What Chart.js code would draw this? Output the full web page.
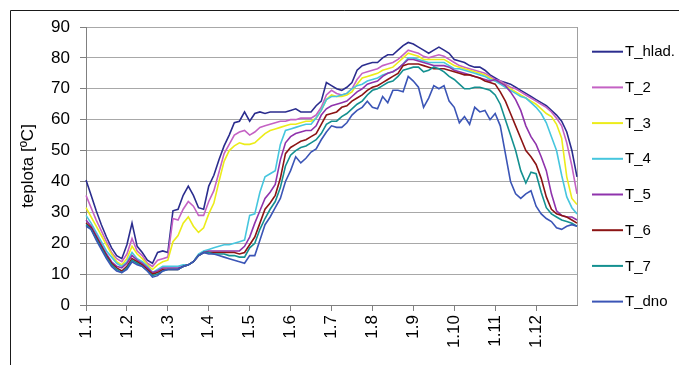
<!DOCTYPE html>
<html>
<head>
<meta charset="utf-8">
<script src="https://cdn.jsdelivr.net/npm/chart.js@4/dist/chart.umd.min.js"></script>
<style>
  html, body { margin: 0; padding: 0; background: #ffffff; }
  #wrap { width: 679px; height: 365px; }
</style>
</head>
<body>
<div id="wrap"><canvas id="c" width="679" height="365"></canvas></div>
<script>
// Month tick labels along the time axis (first day of each month)
const monthLabels = ['1.1', '1.2', '1.3', '1.4', '1.5', '1.6', '1.7', '1.8', '1.9', '1.10', '1.11', '1.12'];
const samplesPerMonth = 8;
const sampleCount = 97;

// Series names
const seriesNames = ['T_hlad.', 'T_2', 'T_3', 'T_4', 'T_5', 'T_6', 'T_7', 'T_dno'];
const seriesColors = ['#2B2D8E', '#C462C4', '#ECEC1A', '#46C6DE', '#8F33AC', '#8C1414', '#149090', '#3B55B6'];

// Temperatures [°C]
const T_hlad = [40.5,35.5,30.5,26,22,18.5,16,15,19.5,26.5,19,17,14.5,13.5,17,17.5,17,30.5,31,35.5,38.5,35.5,31.5,31,38.5,42,47,51.5,55,59,59.5,62.5,59.5,62,62.5,62,62.5,62.5,62.5,62.5,63,63.5,62.5,62.5,62.5,64.5,66,72,71,70,69.5,70.5,72,76,77.5,78,78.5,78.5,80,81,81,82.5,84,85,84.5,83.5,82.5,81.5,82.5,83.5,82.5,81.5,79.5,79,78.5,77.5,77,77,76,74.5,73.5,72.5,72,71.5,70.5,69.5,68.5,67.5,66.5,65.5,64.5,63,61.5,59.5,56,50,41.5];
const T_2 = [35.5,31.5,27.5,24,20.5,17,15,14,16.5,21.5,17.5,16,13.5,12.5,14.5,15,15.5,28,27.5,31,33.5,32,29,29,33.5,37,43,49,52,55,56,56.5,55,56,57.5,58,58.5,59,59.5,59.5,60,60,60.5,60.5,60.5,61.5,64,68,69.5,68.5,68,68.5,70,73,75,75.5,76,76.5,77.5,78,78.5,79.5,81,82.5,82,81.5,80.5,80,80.5,81,80.5,79.5,78.5,77.5,77,76.5,76,75.5,75,74,73,72.5,71.5,70.5,70,69,68,67,66,65,64,62.5,60.5,58,52.5,45,36];
const T_3 = [31.5,28.5,25.5,22.5,19.5,16.5,14,13,15,19,16.5,15,13,11.5,13,14,14.5,20.5,22.5,26.5,28.5,25.5,23.5,25,29.5,33,40,46.5,50,51.5,52.5,52,52,52.5,54,55.5,56.5,57,57.5,58,58.5,58.5,59,59.5,59.5,60.5,63,66.5,68,67.5,67.5,68,69,71.5,73.5,74,74.5,75,76,76.5,77,78.5,80,81.5,81,80.5,79.5,79.5,79.5,79.5,79.5,78.5,77.5,77,76.5,76,75.5,75,74.5,73.5,72.5,72,71,70,69,68,67,66,65,63.5,62,61,58.5,54,41.5,34.5,32.5];
const T_4 = [29,26.5,23.5,20.5,17.5,15.5,13.5,12.5,14,17,15,14,12.5,10.5,11.5,12.5,12.5,12.5,12.5,13,13,14,16.5,17.5,18,18.5,19,19.5,19.5,20,20.5,21,29,29.5,36.5,41.5,42.5,43.5,52,56.5,57,57.5,58,58.5,58.5,60.5,63,66.5,67.5,67.5,68,68.5,70,71,71.5,72.5,73,73.5,74.5,75,75.5,76.5,78,80,80,79.5,79,78.5,78.5,78.5,78.5,77.5,76.5,76.5,76,75.5,75,74.5,74,73,72.5,71.5,70.5,69.5,68.5,67.5,67,65.5,64,62,59,54.5,50,42,35,31.5,29.5];
const T_5 = [27.5,25.5,22.5,19.5,16.5,14,12.5,12,13.5,16,14.5,13.5,12,10.5,11,12,12,12,12,12.5,13,14,16,17,17.5,17.5,17.5,17.5,17.5,17.5,17.5,19,22,26.5,30.5,34.5,36.5,39,47,52.5,54.5,55.5,56,56.5,56.5,58,61.5,63.5,64.5,65,65.5,66,67.5,69,70,71.5,72,72.5,74,75,75.5,76.5,78,79.5,79.5,79,78.5,78,77.5,77.5,77.5,77,76,75.5,75,74.5,74,73.5,73,72.5,73,72,71,69,66.5,63,58,54.5,52,48,43.5,36,30.5,29,28.5,28.5,27.5];
const T_6 = [26.5,25,22,19,16,13.5,12,11,12.5,15,14,13,11.5,10,10.5,11.5,11.5,11.5,11.5,12.5,13,14,16,17,17,17,17,17,17,17,16.5,17,19.5,22,26.5,31,33,35.5,41,49,51,52,53,53.5,54.5,55.5,58.5,61.5,62,62.5,64,64.5,66,67,68,69.5,70.5,71,72,73,74,75,77.5,78,78,78,77.5,77,76.5,76.5,76.5,76,75.5,75,74.5,74.5,74,73.5,72.5,72,71.5,69,66,62,58,54,50,48,45.5,41,35,31,29.5,29,28.5,27.5,26.5];
const T_7 = [26,24.5,21.5,18.5,15.5,13,11.5,10.5,12,14.5,13.5,12.5,11,9.5,10,11,11.5,11.5,11.5,12.5,13,14,16,17,17,16.5,16.5,16.5,16,16,15.5,15.5,18.5,20,24.5,28,31,33.5,38,45,48.5,50,51,51.5,52.5,53.5,55.5,58.5,59.5,59.5,61,62,63.5,65,66,68,69.5,70,71,72,72.5,74,76,76.5,77,77,75.5,76,77,76.5,75.5,74,73,71.5,70,70,70.5,70.5,70,69.5,68,65,60,55,50,43.5,39.5,43,42.5,36.5,31.5,29.5,28.5,27.5,27,26.5,25.5];
const T_dno = [25.5,24.5,21,18,15,12.5,11,10.5,11.5,14,13,12.5,11,9,9.5,11,11.5,11.5,11.5,12.5,13,14,16,17,16.5,16.5,16,15.5,15,14.5,14,13.5,16,16,21,26,28.5,31.5,34.5,40,43.5,48,46,47.5,49.5,50.5,53.5,56,58,57.5,57.5,59,61.5,63,64,66,64,63.5,67.5,65.5,69.5,69.5,69,74,72.5,70.5,64,67,71,70,71,66,64,59,61,58.5,64,62.5,63,60,62,58,49,40,36,34.5,36,37,32,29.5,28,27,25,24.5,25.5,26,25.5];

const seriesValues = [T_hlad, T_2, T_3, T_4, T_5, T_6, T_7, T_dno];

// Category list: a month label every samplesPerMonth samples, blank between
const categories = [];
for (let i = 0; i < sampleCount; i++) {
  categories.push(i % samplesPerMonth === 0 ? (monthLabels[i / samplesPerMonth] || '') : '');
}

const FONT = "'Liberation Sans', Arial, sans-serif";

// White page with the outer frame
const framePlugin = {
  id: 'frame',
  beforeDraw(chart) {
    const ctx = chart.ctx;
    ctx.save();
    ctx.fillStyle = '#ffffff';
    ctx.fillRect(0, 0, chart.width, chart.height);
    ctx.strokeStyle = '#1a1a1a';
    ctx.lineWidth = 1;
    ctx.beginPath();
    ctx.moveTo(10.5, chart.height);
    ctx.lineTo(10.5, 10.5);
    ctx.lineTo(chart.width, 10.5);
    ctx.stroke();
    ctx.restore();
  },
  beforeDatasetsDraw(chart) {
    const { ctx, chartArea } = chart;
    ctx.save();
    ctx.strokeStyle = '#A0A0A0';
    ctx.lineWidth = 1;
    const x = Math.round(chartArea.right) + 0.5;
    ctx.beginPath();
    ctx.moveTo(x, chartArea.top);
    ctx.lineTo(x, chartArea.bottom);
    ctx.stroke();
    ctx.restore();
  }
};

// Legend column on the right
const sideLegend = {
  id: 'sideLegend',
  afterDraw(chart) {
    const ctx = chart.ctx;
    const top = 51.7, step = 35.7;
    ctx.save();
    ctx.font = '15px ' + FONT;
    ctx.textBaseline = 'middle';
    ctx.textAlign = 'left';
    chart.data.datasets.forEach((ds, k) => {
      const y = top + k * step;
      ctx.strokeStyle = ds.borderColor;
      ctx.lineWidth = 2;
      ctx.beginPath();
      ctx.moveTo(592, y);
      ctx.lineTo(623, y);
      ctx.stroke();
      ctx.fillStyle = '#000000';
      ctx.fillText(ds.label, 625, y + 0.5);
    });
    ctx.restore();
  }
};

const datasets = seriesNames.map((name, k) => ({
  label: name,
  data: seriesValues[k],
  borderColor: seriesColors[k],
  backgroundColor: seriesColors[k],
  borderWidth: 1.6,
  pointRadius: 0,
  tension: 0,
  fill: false,
  order: seriesNames.length - k
}));

new Chart(document.getElementById('c'), {
  type: 'line',
  data: { labels: categories, datasets },
  plugins: [framePlugin, sideLegend],
  options: {
    responsive: false,
    animation: false,
    devicePixelRatio: 1,
    layout: { padding: { left: 0, right: 102, top: 27, bottom: 0 } },
    plugins: {
      legend: { display: false },
      tooltip: { enabled: false }
    },
    scales: {
      x: {
        type: 'category',
        offset: false,
        afterFit(scale) { scale.height = 60; },
        border: { color: '#808080', width: 1 },
        grid: { drawOnChartArea: false, drawTicks: true, tickLength: 6, color: '#808080' },
        ticks: {
          autoSkip: false,
          minRotation: 90,
          maxRotation: 90,
          padding: 4,
          color: '#000000',
          font: { family: FONT, size: 17 },
          callback(value, index) {
            const lab = categories[index];
            return lab ? lab : null;
          }
        }
      },
      y: {
        min: 0,
        max: 90,
        afterFit(scale) { scale.width = 86; },
        border: { color: '#808080', width: 1 },
        grid: { color: '#A8A8A8', tickColor: '#808080', tickLength: 6, drawTicks: true },
        ticks: {
          stepSize: 10,
          padding: 10,
          color: '#000000',
          font: { family: FONT, size: 17 }
        },
        title: {
          display: true,
          text: 'teplota [ºC]',
          color: '#000000',
          font: { family: FONT, size: 17 },
          padding: { top: 18, bottom: 0 }
        }
      }
    }
  }
});
</script>
</body>
</html>
